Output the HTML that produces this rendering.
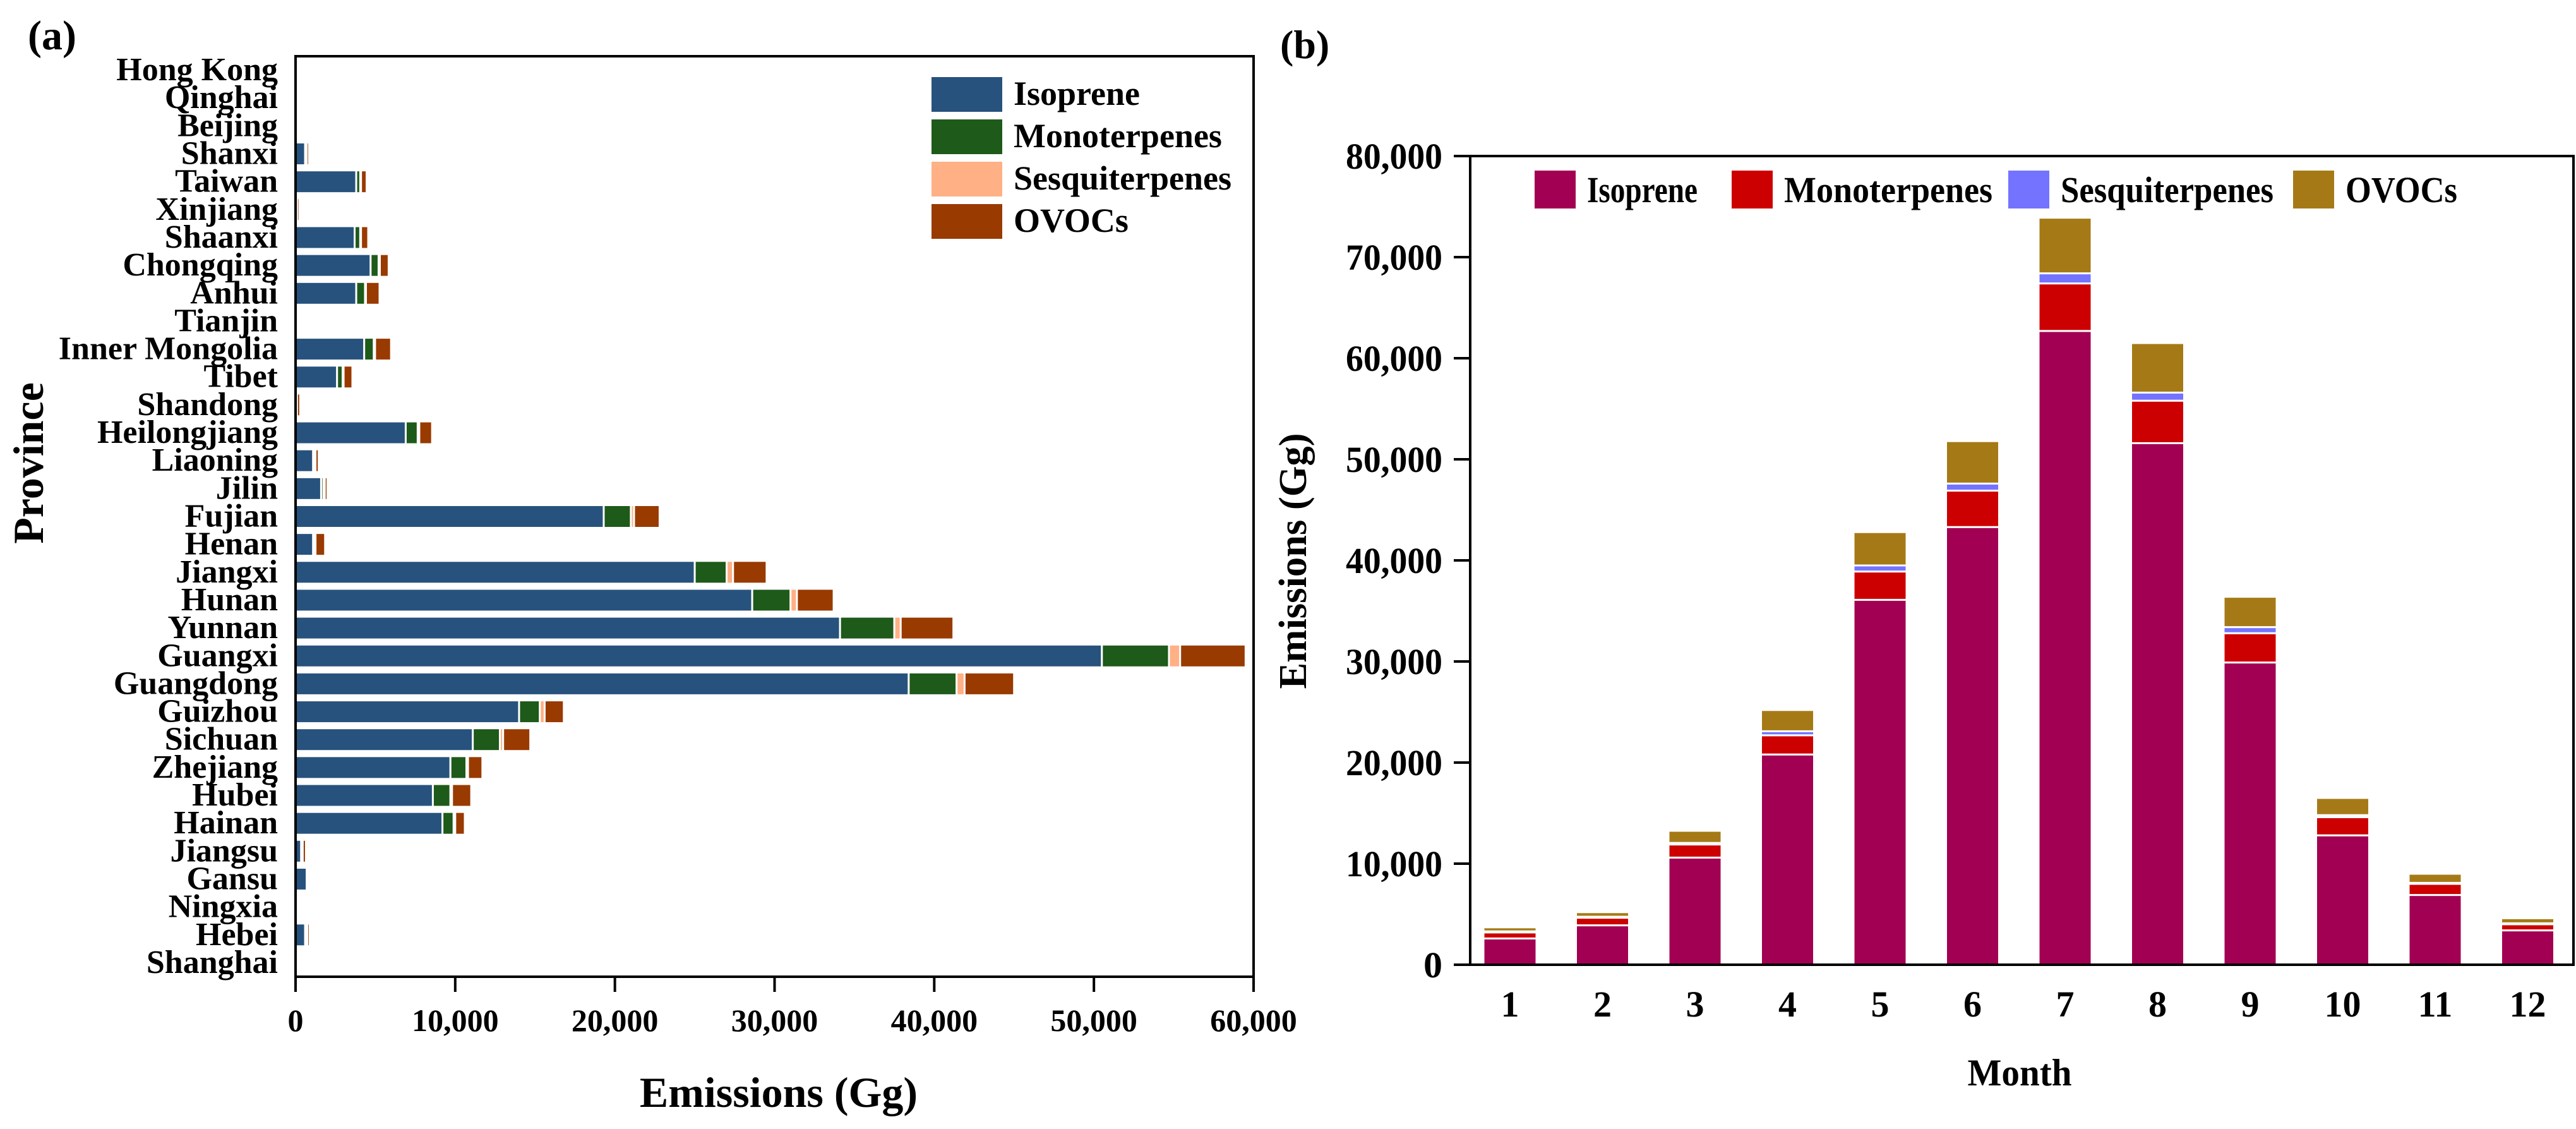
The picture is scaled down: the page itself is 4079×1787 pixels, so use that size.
<!DOCTYPE html>
<html><head><meta charset="utf-8"><style>
html,body{margin:0;padding:0;background:#fff;}
svg{display:block;font-family:"Liberation Serif",serif;font-weight:bold;}
</style></head><body>
<svg id="fig" width="4079" height="1787" viewBox="0 0 4079 1787" xmlns="http://www.w3.org/2000/svg">
<rect width="4079" height="1787" fill="#fff"/>
<g id="pa"></g>
<g id="pb"></g>
</svg>
<script>
const provinces = ["Hong Kong","Qinghai","Beijing","Shanxi","Taiwan","Xinjiang","Shaanxi","Chongqing","Anhui","Tianjin","Inner Mongolia","Tibet","Shandong","Heilongjiang","Liaoning","Jilin","Fujian","Henan","Jiangxi","Hunan","Yunnan","Guangxi","Guangdong","Guizhou","Sichuan","Zhejiang","Hubei","Hainan","Jiangsu","Gansu","Ningxia","Hebei","Shanghai"];
const provIsoprene = [0,0,100,600,3800,50,3700,4700,3800,0,4300,2600,50,6900,1100,1600,19300,1100,25000,28600,34100,50500,38400,14000,11100,9700,8600,9200,350,700,0,600,0];
const provMono = [0,0,0,50,250,20,350,500,550,0,600,350,20,750,100,150,1700,100,2000,2400,3400,4200,3000,1300,1700,1000,1100,700,50,80,0,80,0];
const provSesq = [0,0,0,50,50,20,50,80,60,0,80,60,20,100,50,80,200,50,400,400,400,700,500,300,200,100,100,100,50,100,0,60,0];
const provOvoc = [0,0,0,150,350,150,450,550,850,0,1000,550,200,800,200,170,1600,600,2100,2300,3300,4100,3100,1200,1700,900,1200,600,200,70,0,150,0];
const xTicksA = [0,10000,20000,30000,40000,50000,60000];
const xTickLabelsA = ["0","10,000","20,000","30,000","40,000","50,000","60,000"];

const months = ["1","2","3","4","5","6","7","8","9","10","11","12"];
const monIsoprene = [2600,3900,10600,20800,36100,43300,62700,51600,29900,12800,6900,3400];
const monMono = [600,750,1300,1900,2800,3600,4700,4200,2900,1800,1100,600];
const monSesq = [100,100,150,400,600,700,1000,800,600,200,100,100];
const monOvoc = [400,450,1200,2100,3300,4200,5500,4900,3000,1700,900,500];
const yTicksB = [0,10000,20000,30000,40000,50000,60000,70000,80000];
const yTickLabelsB = ["0","10,000","20,000","30,000","40,000","50,000","60,000","70,000","80,000"];

const NS="http://www.w3.org/2000/svg";
function mk(tag, attrs, parent, text){
  const e=document.createElementNS(NS,tag);
  for(const k in attrs) e.setAttribute(k,attrs[k]);
  if(text!==undefined) e.textContent=text;
  parent.appendChild(e); return e;
}

// ---------- Panel A ----------
const pa=document.getElementById('pa');
const aL=468,aR=1985,aT=89,aB=1546;
const xA=v=>aL+(v/60000)*(aR-aL);
const bandA=(aB-aT)/provinces.length;
const yA=i=>aT+bandA*(i+0.5);
const barHA=36;
const colA=["#27527d","#1e5a1a","#ffb085","#993a00"];
const seriesA=[provIsoprene,provMono,provSesq,provOvoc];
const sNames=["isoprene","monoterpenes","sesquiterpenes","ovocs"];
provinces.forEach((p,i)=>{
  let acc=0;
  seriesA.forEach((s,k)=>{
    const v=s[i]; if(v<=0) return;
    const r=mk('rect',{x:xA(acc),y:yA(i)-barHA/2,width:Math.max(xA(acc+v)-xA(acc),1),height:barHA,fill:colA[k],stroke:"#fff","stroke-width":3},pa);
    
    
    acc+=v;
  });
  const t=mk('text',{x:440,y:yA(i)+16,"font-size":52,"text-anchor":"end"},pa,p);
  
  
});
const frA=mk('rect',{x:aL,y:aT,width:aR-aL,height:aB-aT,fill:"none",stroke:"#000","stroke-width":4},pa);


xTicksA.forEach((v,i)=>{
  const l=mk('line',{x1:xA(v),x2:xA(v),y1:aB,y2:aB+24,stroke:"#000","stroke-width":4},pa);
  
  
  const t=mk('text',{x:xA(v),y:1632,"font-size":50,"text-anchor":"middle"},pa,xTickLabelsA[i]);
  
  
});
// legend A
const legA=mk('g',{},pa);


["Isoprene","Monoterpenes","Sesquiterpenes","OVOCs"].forEach((n,k)=>{
  const y0=122+k*67;
  const r=mk('rect',{x:1475,y:y0,width:112,height:55,fill:colA[k]},legA);
  
  
  const t=mk('text',{x:1605,y:y0+44,"font-size":54},legA,n);
  
  
});
let t;
t=mk('text',{x:1233,y:1752,"font-size":68,"text-anchor":"middle"},pa,"Emissions (Gg)");


t=mk('text',{x:0,y:0,"font-size":68,"text-anchor":"middle",transform:"translate(68,733) rotate(-90)"},pa,"Province");


t=mk('text',{x:44,y:78,"font-size":66},pa,"(a)");



// ---------- Panel B ----------
const pb=document.getElementById('pb');
const bL=2328,bR=4075,bT=247,bB=1527;
const yB=v=>bB-(v/80000)*(bB-bT);
const stepB=146.5, x0B=2391;
const xB=i=>x0B+i*stepB;
const barWB=84;
const colB=["#a20052","#cc0000","#7373ff","#a57a16"];
const seriesB=[monIsoprene,monMono,monSesq,monOvoc];
months.forEach((m,i)=>{
  let acc=0;
  seriesB.forEach((s,k)=>{
    const v=s[i]; if(v<=0) return;
    const r=mk('rect',{x:xB(i)-barWB/2,y:yB(acc+v),width:barWB,height:Math.max(yB(acc)-yB(acc+v),1),fill:colB[k],stroke:"#fff","stroke-width":3},pb);
    
    
    acc+=v;
  });
  const t2=mk('text',{x:xB(i),y:1609,"font-size":58,"text-anchor":"middle"},pb,m);
  
  
});
const frB=mk('rect',{x:bL,y:bT,width:bR-bL,height:bB-bT,fill:"none",stroke:"#000","stroke-width":4},pb);


yTicksB.forEach((v,i)=>{
  const l=mk('line',{x1:bL-26,x2:bL,y1:yB(v),y2:yB(v),stroke:"#000","stroke-width":4},pb);
  
  
  const t3=mk('text',{x:2284,y:yB(v)+20,"font-size":58,"text-anchor":"end",textLength:v===0?30:153,lengthAdjust:"spacingAndGlyphs"},pb,yTickLabelsB[i]);
  
  
});
const legB=mk('g',{},pb);


const legBx=[2430,2742,3180,3631], legBw=[175,330,337,177];
["Isoprene","Monoterpenes","Sesquiterpenes","OVOCs"].forEach((n,k)=>{
  const r=mk('rect',{x:legBx[k],y:270,width:65,height:60,fill:colB[k]},legB);
  
  
  const t4=mk('text',{x:legBx[k]+83,y:320,"font-size":58,textLength:legBw[k],lengthAdjust:"spacingAndGlyphs"},legB,n);
  
  
});
t=mk('text',{x:3198,y:1718,"font-size":60,"text-anchor":"middle",textLength:165,lengthAdjust:"spacingAndGlyphs"},pb,"Month");


t=mk('text',{x:0,y:0,"font-size":62,"text-anchor":"middle",textLength:405,lengthAdjust:"spacingAndGlyphs",transform:"translate(2068,888) rotate(-90)"},pb,"Emissions (Gg)");


t=mk('text',{x:2027,y:92,"font-size":64},pb,"(b)");


</script>
</body></html>
